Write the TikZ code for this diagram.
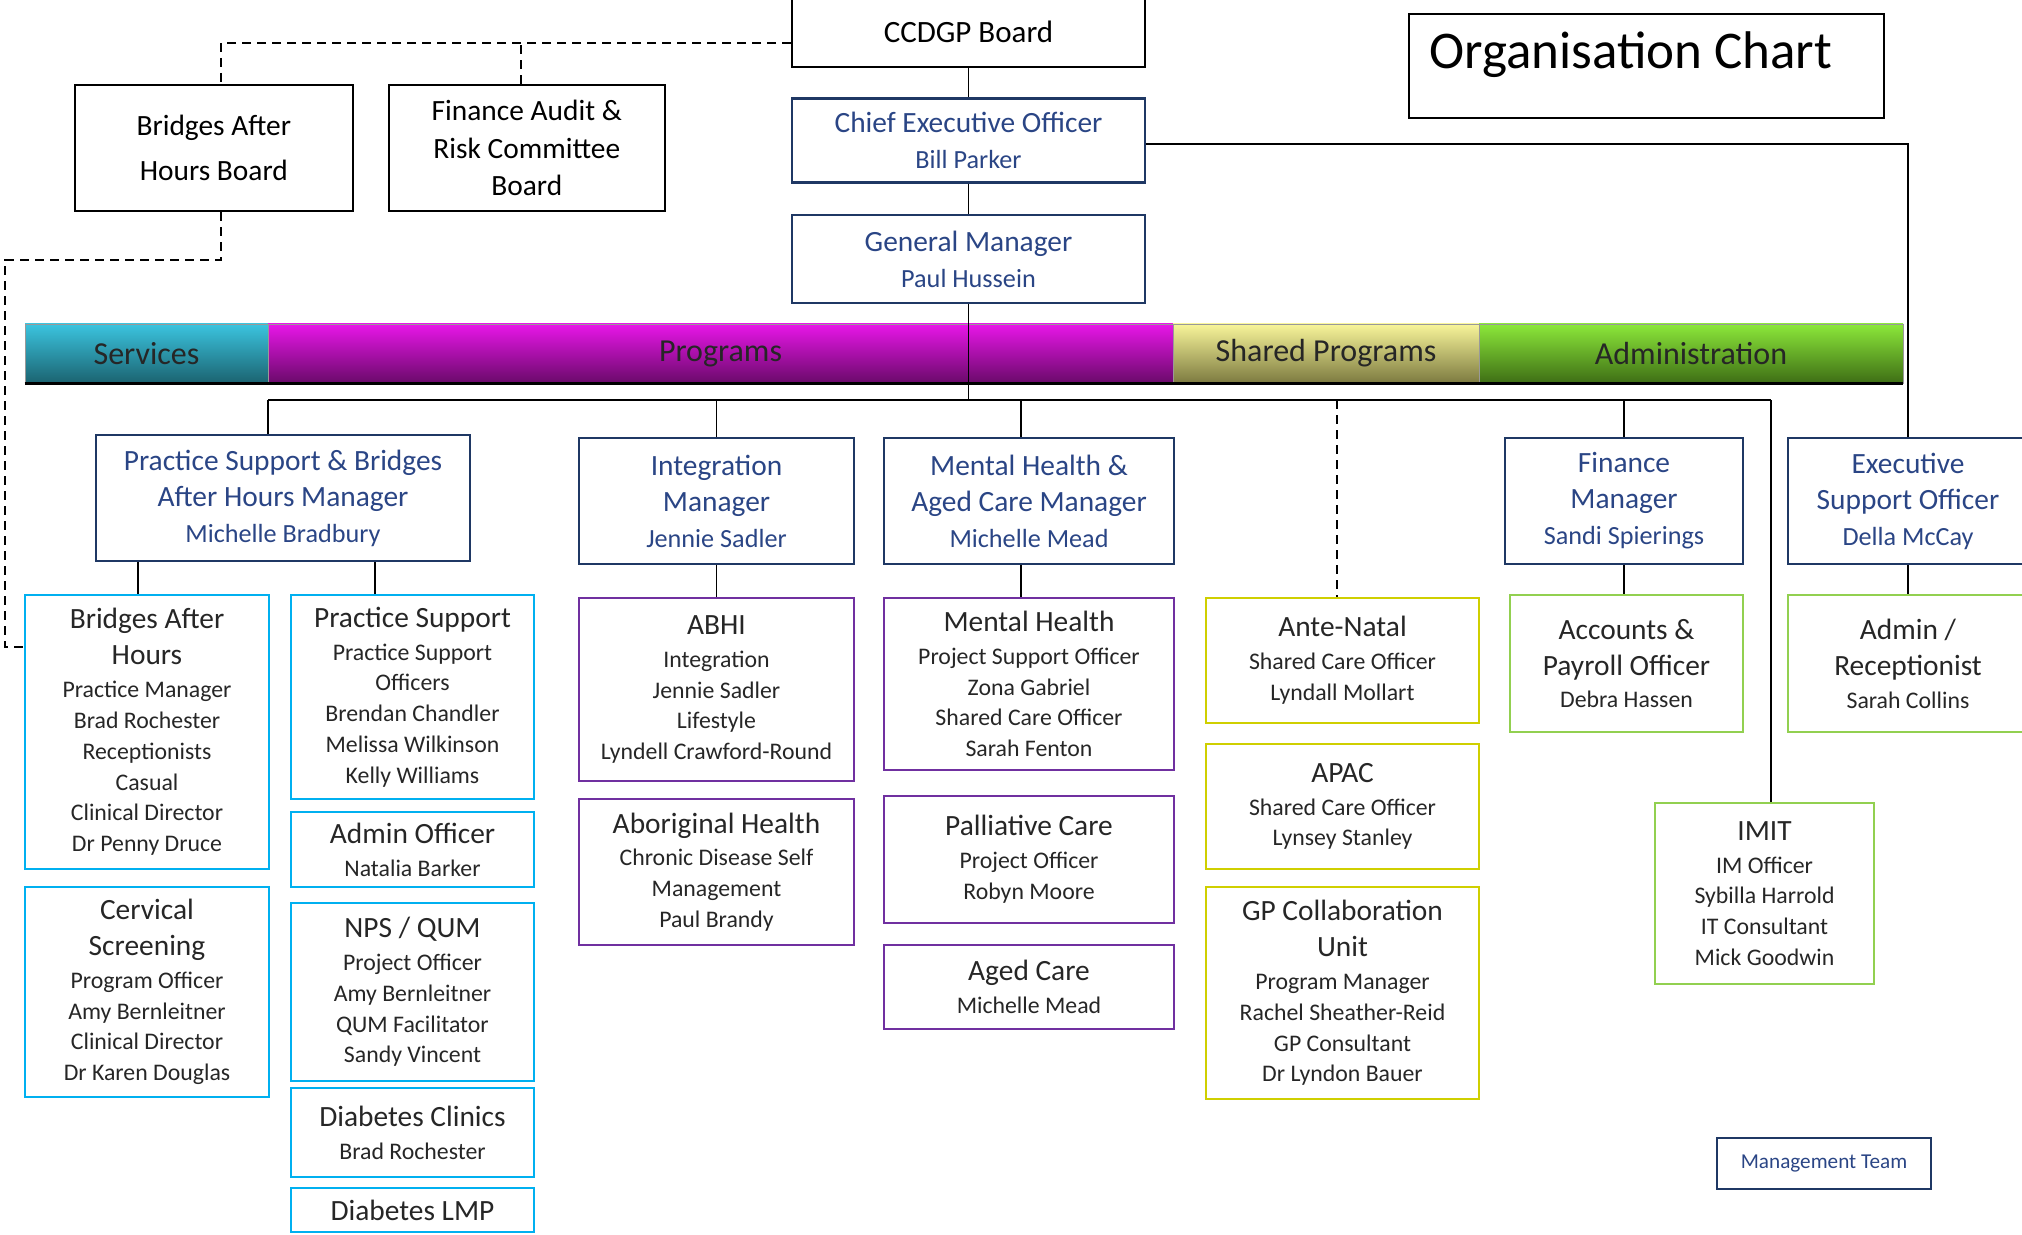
\documentclass[tikz,border=0pt]{standalone}
\usepackage{fontspec}
\setmainfont{Carlito}
\usepackage{tikz}
\usetikzlibrary{calc,positioning}
\definecolor{navy}{HTML}{1F3864}
\definecolor{navytext}{HTML}{2A4585}
\definecolor{cyanline}{HTML}{00B0F0}
\definecolor{purpline}{HTML}{7030A0}
\definecolor{yellline}{HTML}{CFCF00}
\definecolor{greenline}{HTML}{92D050}
\definecolor{bodytext}{HTML}{262626}
\definecolor{svcTop}{HTML}{3BC4DF}
\definecolor{svcBot}{HTML}{1B6370}
\definecolor{prgTop}{HTML}{E816E8}
\definecolor{prgBot}{HTML}{6A0A6A}
\definecolor{shpTop}{HTML}{F8F59A}
\definecolor{shpBot}{HTML}{7C7A40}
\definecolor{admTop}{HTML}{8CE83A}
\definecolor{admBot}{HTML}{3E6E15}
\newcommand{\ttlf}{\fontsize{14.7}{18}\selectfont}
\newcommand{\subfnt}{\fontsize{11.9}{15.4}\selectfont}
\newcommand{\namefnt}{\fontsize{13.1}{18}\selectfont}

\begin{document}
\begin{tikzpicture}[x=1pt,y=-1pt,
  board/.style={draw=black, line width=1pt, align=center, font=\fontsize{14.7}{22.5}\selectfont, inner sep=2pt},
  mgr/.style={draw=navy, line width=1.2pt, align=center, font=\namefnt, text=navytext, inner sep=2pt},
  unitbox/.style={line width=1pt, align=center, font=\subfnt, text=bodytext, inner sep=2pt},
  svcbox/.style={unitbox, draw=cyanline},
  prgbox/.style={unitbox, draw=purpline},
  shpbox/.style={unitbox, draw=yellline},
  admbox/.style={unitbox, draw=greenline},
  band/.style={draw=black!40, line width=0.4pt, minimum height=29.5pt, inner sep=0pt, font=\fontsize{16}{18}\selectfont, text=black!85},
  link/.style={line width=0.7pt},
  dashlink/.style={line width=0.7pt, dash pattern=on 4.5pt off 3pt}]
\useasboundingbox (0,0) rectangle (1011,617.5);
\clip (0,0) rectangle (1011,617.5);

% boards
\node[board, minimum width=176.5pt, minimum height=35.5pt, font=\fontsize{15.5}{18}\selectfont] (ccdgp) at (484.25,15.75) {CCDGP Board};
\node[board, minimum width=138.75pt, minimum height=63.25pt] (bahb) at (106.9,74.1) {Bridges After\\Hours Board};
\node[board, minimum width=138.25pt, minimum height=63.25pt, font=\fontsize{14.7}{18.7}\selectfont] (fac) at (263.4,74.1) {Finance Audit \&\\Risk Committee\\Board};
\node[draw, line width=1pt, minimum width=237.5pt, minimum height=52.25pt] (chartbox) at (823.25,33.1) {};
\node[anchor=base west, inner sep=0pt, font=\fontsize{26.5}{30}\selectfont] (charttitle) at (714.5,34.5) {Organisation Chart};

% executive
\node[mgr, minimum width=176.5pt, minimum height=42pt] (ceo) at (484.25,70.25) {{\ttlf Chief Executive Officer}\\Bill Parker};
\node[mgr, minimum width=176.5pt, minimum height=44pt] (gm) at (484.25,129.5) {{\ttlf General Manager}\\Paul Hussein};

% divisions band
\node[band, top color=svcTop, bottom color=svcBot, minimum width=121.5pt] (services) at (73.25,176.75) {Services};
\node[band, top color=prgTop, bottom color=prgBot, minimum width=452.5pt] (programs) at (360.25,176.75) {Programs};
\node[band, top color=shpTop, bottom color=shpBot, minimum width=153pt] (shared) at (663,176.75) {Shared Programs};
\node[band, top color=admTop, bottom color=admBot, minimum width=212pt] (admin) at (845.5,176.75) {Administration};
\draw[line width=1.2pt] (services.south west) -- (admin.south east);

% managers
\node[mgr, minimum width=187pt, minimum height=63pt] (psb) at (141.5,249) {{\ttlf Practice Support \& Bridges}\\{\ttlf After Hours Manager}\\Michelle Bradbury};
\node[mgr, minimum width=137.5pt, minimum height=63pt] (intm) at (358.25,250.5) {{\ttlf Integration}\\{\ttlf Manager}\\Jennie Sadler};
\node[mgr, minimum width=145pt, minimum height=63pt] (mhac) at (514.5,250.5) {{\ttlf Mental Health \&}\\{\ttlf Aged Care Manager}\\Michelle Mead};
\node[mgr, minimum width=119pt, minimum height=63pt] (finm) at (812,250.5) {{\ttlf Finance}\\{\ttlf Manager}\\Sandi Spierings};
\node[mgr, minimum width=120pt, minimum height=63pt] (eso) at (954,250.5) {{\ttlf Executive}\\{\ttlf Support Officer}\\Della McCay};
\node[mgr, minimum width=107pt, minimum height=25.5pt, font=\fontsize{10.6}{12}\selectfont] (mgt) at (912,581.75) {Management Team};

% services units
\node[svcbox, minimum width=122pt, minimum height=137pt] (bah) at (73.5,366) {{\ttlf Bridges After}\\[2.6pt]{\ttlf Hours}\\[1pt]Practice Manager\\Brad Rochester\\Receptionists\\Casual\\Clinical Director\\Dr Penny Druce};
\node[svcbox, minimum width=122pt, minimum height=105pt] (cerv) at (73.5,496) {{\ttlf Cervical}\\[2.6pt]{\ttlf Screening}\\[1pt]Program Officer\\Amy Bernleitner\\Clinical Director\\Dr Karen Douglas};
\node[svcbox, minimum width=121.5pt, minimum height=102pt] (pso) at (206.25,348.5) {{\ttlf Practice Support}\\[1pt]Practice Support\\Officers\\Brendan Chandler\\Melissa Wilkinson\\Kelly Williams};
\node[svcbox, minimum width=121.5pt, minimum height=37.5pt] (admo) at (206.25,424.75) {{\ttlf Admin Officer}\\[1pt]Natalia Barker};
\node[svcbox, minimum width=121.5pt, minimum height=89pt] (nps) at (206.25,496) {{\ttlf NPS / QUM}\\[1pt]Project Officer\\Amy Bernleitner\\QUM Facilitator\\Sandy Vincent};
\node[svcbox, minimum width=121.5pt, minimum height=44.5pt] (dcl) at (206.25,566.25) {{\ttlf Diabetes Clinics}\\[1pt]Brad Rochester};
\node[svcbox, minimum width=121.5pt, minimum height=22pt] (dlmp) at (206.25,605) {{\ttlf Diabetes LMP}};

% programs units
\node[prgbox, minimum width=137.5pt, minimum height=91.5pt] (abhi) at (358.25,344.75) {{\ttlf ABHI}\\[1pt]Integration\\Jennie Sadler\\Lifestyle\\Lyndell Crawford-Round};
\node[prgbox, minimum width=137.5pt, minimum height=73pt] (abor) at (358.25,436) {{\ttlf Aboriginal Health}\\[1pt]Chronic Disease Self\\Management\\Paul Brandy};
\node[prgbox, minimum width=145pt, minimum height=86pt] (mh) at (514.5,342) {{\ttlf Mental Health}\\[1pt]Project Support Officer\\Zona Gabriel\\Shared Care Officer\\Sarah Fenton};
\node[prgbox, minimum width=145pt, minimum height=63.5pt] (pall) at (514.5,429.75) {{\ttlf Palliative Care}\\[1pt]Project Officer\\Robyn Moore};
\node[prgbox, minimum width=145pt, minimum height=42pt] (aged) at (514.5,493.5) {{\ttlf Aged Care}\\[1pt]Michelle Mead};

% shared programs units
\node[shpbox, minimum width=136.5pt, minimum height=62.5pt] (ante) at (671.25,330.25) {{\ttlf Ante-Natal}\\[1pt]Shared Care Officer\\Lyndall Mollart};
\node[shpbox, minimum width=136.5pt, minimum height=62.5pt] (apac) at (671.25,403.25) {{\ttlf APAC}\\[1pt]Shared Care Officer\\Lynsey Stanley};
\node[shpbox, minimum width=136.5pt, minimum height=106pt] (gpcu) at (671.25,496.5) {{\ttlf GP Collaboration}\\[2.6pt]{\ttlf Unit}\\[1pt]Program Manager\\Rachel Sheather-Reid\\GP Consultant\\Dr Lyndon Bauer};

% administration units
\node[admbox, minimum width=116.5pt, minimum height=68.5pt] (acc) at (813.25,331.75) {{\ttlf Accounts \&}\\[2.6pt]{\ttlf Payroll Officer}\\[1pt]Debra Hassen};
\node[admbox, minimum width=120pt, minimum height=68.5pt] (rec) at (954,331.75) {{\ttlf Admin /}\\[2.6pt]{\ttlf Receptionist}\\[1pt]Sarah Collins};
\node[admbox, minimum width=109.5pt, minimum height=90.5pt] (imit) at (882.25,446.75) {{\ttlf IMIT}\\[1pt]IM Officer\\Sybilla Harrold\\IT Consultant\\Mick Goodwin};

% connectors
\coordinate (dj) at (110.5,21.5);
\coordinate (dl) at (2.5,130);
\coordinate (busL) at (134,200);
\coordinate (busR) at (885.5,200);
\coordinate (bk) at (69,0);
\coordinate (pk) at (187.5,0);
\coordinate (mk) at (510.5,0);
\coordinate (ak) at (668.5,0);
\draw[dashlink] (ccdgp.west |- dj) -- (dj) -- (dj |- bahb.north);
\draw[dashlink] (fac.north -| 260.5,0) -- (260.5,21.5);
\draw[dashlink] (dj |- bahb.south) |- (dl) |- ($(bah.west)+(0,-42.5)$);
\draw[link] (ccdgp.south) -- (ceo.north);
\draw[link] (ceo.south) -- (gm.north);
\draw[link] (gm.south) -- (gm.south |- busL);
\draw[link] ($(ceo.east)+(0,1.75)$) -| (eso.north);
\draw[link] (busL) -- (busR);
\draw[link] (busL) -- (busL |- psb.north);
\draw[link] (intm.north |- busL) -- (intm.north);
\draw[link] (mk |- busL) -- (mhac.north -| mk);
\draw[dashlink] (ak |- busL) -- (ante.north -| ak);
\draw[link] (finm.north |- busL) -- (finm.north);
\draw[link] (busR) -- (busR |- imit.north);
\draw[link] (psb.south -| bk) -- (bah.north -| bk);
\draw[link] (psb.south -| pk) -- (pso.north -| pk);
\draw[link] (intm.south) -- (abhi.north);
\draw[link] (mhac.south -| mk) -- (mh.north -| mk);
\draw[link] (finm.south) -- (finm.south |- acc.north);
\draw[link] (eso.south) -- (rec.north);
\end{tikzpicture}
\end{document}
